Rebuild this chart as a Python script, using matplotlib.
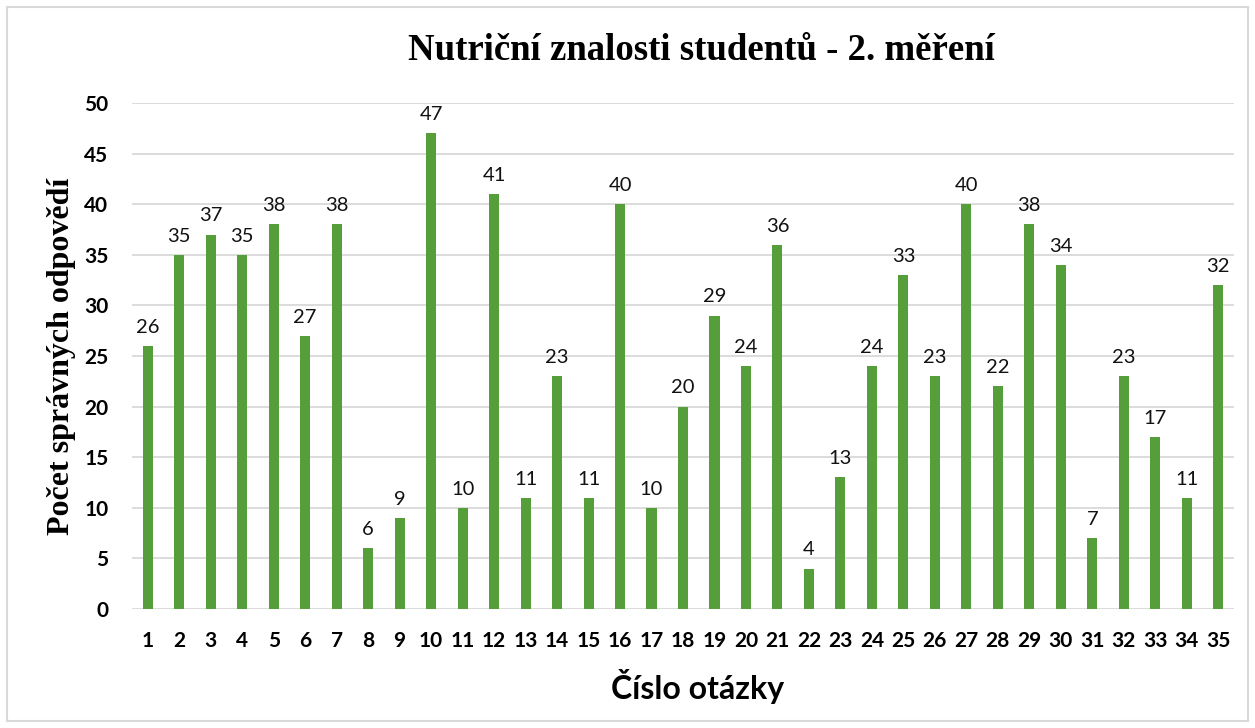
import matplotlib
matplotlib.use("Agg")
import matplotlib.pyplot as plt
from matplotlib.patches import Rectangle

questions = [str(i) for i in range(1, 36)]
correct = [26, 35, 37, 35, 38, 27, 38, 6, 9, 47, 10, 41, 11, 23, 11, 40, 10, 20,
           29, 24, 36, 4, 13, 24, 33, 23, 40, 22, 38, 34, 7, 23, 17, 11, 32]

title = "Nutriční znalosti studentů - 2. měření"
xlabel = "Číslo otázky"
ylabel = "Počet správných odpovědí"

sans = ["Lato", "DejaVu Sans"]
serif = ["Liberation Serif", "DejaVu Serif"]

fig = plt.figure(figsize=(12.55, 7.28), dpi=100)
fig.patches.append(Rectangle((7 / 1255, 7 / 728), 1 - 14 / 1255, 1 - 14 / 728,
                             transform=fig.transFigure, fill=False,
                             edgecolor="#d9d9d9", linewidth=1.5))
ax = fig.add_axes([132 / 1255, 1 - 609 / 728, 1102 / 1255, 506 / 728])

x = range(len(questions))
ax.bar(x, correct, width=0.32, color="#559e3a", zorder=3)
for xi, v in zip(x, correct):
    ax.text(xi, v + 1.0, str(v), ha="center", va="bottom", fontsize=14.5,
            family=sans, color="#111111")

ax.set_xlim(-0.5, len(questions) - 0.5)
ax.set_ylim(0, 50)
ax.set_yticks(range(0, 51, 5))
ax.set_xticks(list(x))
ax.set_xticklabels(questions)
ax.grid(axis="y", color="#d9d9d9", linewidth=1.3, zorder=0)
for s in ax.spines.values():
    s.set_visible(False)
ax.tick_params(length=0, labelsize=15)
for lab in ax.get_xticklabels() + ax.get_yticklabels():
    lab.set_family(sans)
    lab.set_fontweight("bold")
ax.tick_params(axis="x", pad=16)
ax.tick_params(axis="y", pad=17)

fig.text(698 / 1255, 1 - 686 / 728, xlabel, ha="center", va="center",
         fontsize=23, fontweight="bold", family=sans)
fig.text(62 / 1255, 1 - 356 / 728, ylabel, ha="center", va="center",
         rotation=90, fontsize=23, fontweight="bold", family=serif)
fig.text(701 / 1255, 1 - 50 / 728, title, ha="center", va="center",
         fontsize=26.5, fontweight="bold", family=serif)

fig.savefig("out.png", dpi=100)
